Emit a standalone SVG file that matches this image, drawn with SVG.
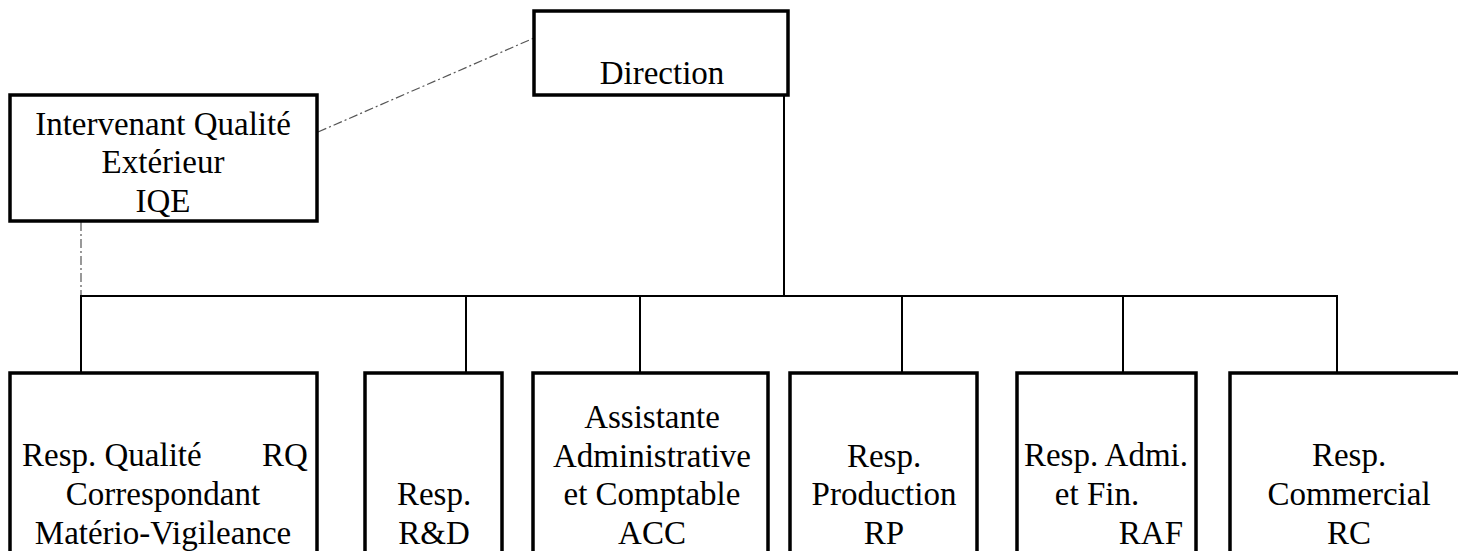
<svg xmlns="http://www.w3.org/2000/svg" width="1458" height="551" viewBox="0 0 1458 551">
<style>
.box{fill:#fff;stroke:#000;stroke-width:3.5}
.t{font-family:"Liberation Serif","Times New Roman",serif;font-size:33px;fill:#000}
.m{text-anchor:middle}
.solid{stroke:#000;stroke-width:2;fill:none}
.dd{stroke:#555;stroke-width:1.2;fill:none;stroke-dasharray:9,3,2,3}
</style>
<rect width="1458" height="551" fill="#fff"/>
<g id="connectors">
<line class="dd" x1="318" y1="132" x2="534" y2="38"/>
<line class="dd" x1="81" y1="222" x2="81" y2="296"/>
<line class="solid" x1="784" y1="95" x2="784" y2="296"/>
<line class="solid" x1="80" y1="296" x2="1338" y2="296"/>
<line class="solid" x1="81" y1="296" x2="81" y2="373"/>
<line class="solid" x1="466" y1="296" x2="466" y2="373"/>
<line class="solid" x1="640" y1="296" x2="640" y2="373"/>
<line class="solid" x1="902" y1="296" x2="902" y2="373"/>
<line class="solid" x1="1123" y1="296" x2="1123" y2="373"/>
<line class="solid" x1="1337" y1="296" x2="1337" y2="373"/>
</g>
<g id="direction">
<rect class="box" x="534" y="11" width="254" height="84"/>
<text class="t m" x="662" y="84">Direction</text>
</g>
<g id="iqe">
<rect class="box" x="10" y="95" width="307" height="126"/>
<text class="t m" x="163" y="135">Intervenant Qualité</text>
<text class="t m" x="163" y="173">Extérieur</text>
<text class="t m" x="163" y="212">IQE</text>
</g>
<g id="rq">
<rect class="box" x="10" y="373" width="307" height="200"/>
<text class="t" y="466"><tspan x="22">Resp. Qualité</tspan><tspan x="262">RQ</tspan></text>
<text class="t m" x="163" y="505">Correspondant</text>
<text class="t m" x="163" y="544">Matério-Vigileance</text>
</g>
<g id="rd">
<rect class="box" x="365" y="373" width="137" height="200"/>
<text class="t m" x="434" y="505">Resp.</text>
<text class="t m" x="434" y="544">R&amp;D</text>
</g>
<g id="acc">
<rect class="box" x="533" y="373" width="235" height="200"/>
<text class="t m" x="652" y="428">Assistante</text>
<text class="t m" x="652" y="467">Administrative</text>
<text class="t m" x="652" y="505">et Comptable</text>
<text class="t m" x="652" y="544">ACC</text>
</g>
<g id="rp">
<rect class="box" x="790" y="373" width="187" height="200"/>
<text class="t m" x="884" y="467">Resp.</text>
<text class="t m" x="884" y="505">Production</text>
<text class="t m" x="884" y="544">RP</text>
</g>
<g id="raf">
<rect class="box" x="1017" y="373" width="179" height="200"/>
<text class="t m" x="1106" y="466">Resp. Admi.</text>
<text class="t m" x="1097" y="505">et Fin.</text>
<text class="t" x="1183" y="544" text-anchor="end">RAF</text>
</g>
<g id="rc">
<rect class="box" x="1230" y="373" width="260" height="200"/>
<text class="t m" x="1349" y="466">Resp.</text>
<text class="t m" x="1349" y="505">Commercial</text>
<text class="t m" x="1349" y="544">RC</text>
</g>
</svg>
